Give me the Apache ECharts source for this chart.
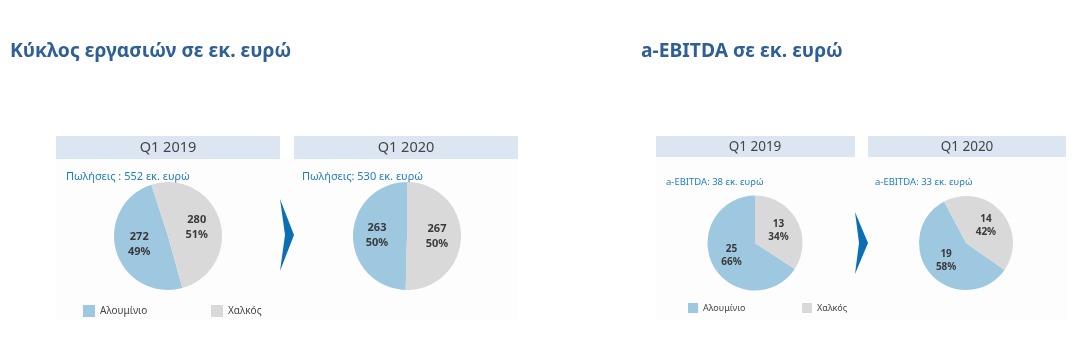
<!DOCTYPE html>
<html>
<head>
<meta charset="utf-8">
<script src="https://cdn.jsdelivr.net/npm/echarts@6/dist/echarts.min.js"></script>
<style>
html,body{margin:0;padding:0;background:#fff;}
#c{width:1081px;height:355px;}
</style>
</head>
<body>
<div id="c"></div>
<script>
// ---- data ----
var segments = ['Αλουμίνιο', 'Χαλκός'];
var periods = ['Q1 2019', 'Q1 2020'];
var salesAlu = [272, 263];
var salesCu = [280, 267];
var salesTotal = [552, 530];
var ebitdaAlu = [25, 19];
var ebitdaCu = [13, 14];
var ebitdaTotal = [38, 33];
var titles = ['Κύκλος εργασιών σε εκ. ευρώ', 'a-EBITDA σε εκ. ευρώ'];

var ALU = '#9ec7e0', CU = '#d9d9d9';
var FONT = '"Noto Sans", "DejaVu Sans", sans-serif';

var chart = echarts.init(document.getElementById('c'));

function pie(cx, cy, r, start, alu, cu, fs, lh) {
  return {
    type: 'pie',
    center: [cx, cy],
    radius: [0, r],
    startAngle: start,
    clockwise: true,
    percentPrecision: 0,
    silent: true,
    animation: false,
    label: {
      show: true,
      position: 'inside',
      formatter: '{c}\n{d}%',
      color: '#3a3a3a',
      fontFamily: FONT,
      fontWeight: 'bold',
      fontSize: fs,
      lineHeight: lh
    },
    labelLine: {show: false},
    itemStyle: {borderWidth: 0},
    data: [
      {name: segments[0], value: alu, itemStyle: {color: ALU}},
      {name: segments[1], value: cu, itemStyle: {color: CU}}
    ]
  };
}

function txt(x, y, s, size, color, weight, align) {
  return {
    type: 'text', silent: true,
    style: {
      x: x, y: y, text: s, fill: color,
      font: (weight || 'normal') + ' ' + size + 'px ' + FONT,
      align: align || 'left', verticalAlign: 'middle'
    }
  };
}
function rect(x, y, w, h, color) {
  return {type: 'rect', silent: true, shape: {x: x, y: y, width: w, height: h}, style: {fill: color}};
}
function chevron(x, y, w, h, notch) {
  return {
    type: 'polygon', silent: true,
    shape: {points: [[x, y], [x + w, y + h / 2], [x, y + h], [x + notch, y + h / 2]]},
    style: {fill: '#0b6fb4'}
  };
}

var graphics = [
  rect(56, 159, 462, 160, '#fdfdfd'),
  rect(656, 157, 410, 163, '#fdfdfd'),
  rect(56, 136, 224, 23, '#dce6f2'),
  rect(294, 136, 224, 23, '#dce6f2'),
  rect(656, 136, 199, 21, '#dce6f2'),
  rect(868, 136, 198, 21, '#dce6f2'),
  txt(10, 52, titles[0], 19.3, '#2f5f97', 'bold'),
  txt(641, 52, titles[1], 19.3, '#2f5f97', 'bold'),
  txt(168, 148, periods[0], 14.5, '#454545', 'normal', 'center'),
  txt(406, 148, periods[1], 14.5, '#454545', 'normal', 'center'),
  txt(755, 147, periods[0], 13.5, '#454545', 'normal', 'center'),
  txt(967, 147, periods[1], 13.5, '#454545', 'normal', 'center'),
  txt(66, 177, 'Πωλήσεις : ' + salesTotal[0] + ' εκ. ευρώ', 11, '#1f7cc2'),
  txt(302, 177, 'Πωλήσεις: ' + salesTotal[1] + ' εκ. ευρώ', 11, '#1f7cc2'),
  txt(666, 182, 'a-EBITDA: ' + ebitdaTotal[0] + ' εκ. ευρώ', 9.5, '#1f7cc2'),
  txt(875, 182, 'a-EBITDA: ' + ebitdaTotal[1] + ' εκ. ευρώ', 9.5, '#1f7cc2'),
  chevron(280, 199, 14, 72, 5),
  chevron(855, 212, 13, 62, 4)
];

function legend(name, left, top, size, fs) {
  return {
    data: [name], left: left, top: top, padding: 0,
    icon: 'rect', itemWidth: size, itemHeight: size, itemGap: 0,
    selectedMode: false,
    textStyle: {fontFamily: FONT, fontSize: fs, color: '#454545', padding: [0, 0, 0, 0]}
  };
}

chart.setOption({
  animation: false,
  backgroundColor: '#ffffff',
  legend: [
    legend(segments[0], 83, 305, 12, 10),
    legend(segments[1], 211, 305, 12, 10),
    legend(segments[0], 688, 303, 10, 9),
    legend(segments[1], 802, 303, 10, 9)
  ],
  graphic: graphics,
  series: [
    pie(168, 236, 54, 285.4, salesAlu[0], salesCu[0], 11, 15),
    pie(407, 236, 54, 268.6, salesAlu[1], salesCu[1], 11, 15),
    pie(755, 243, 47.5, 326.8, ebitdaAlu[0], ebitdaCu[0], 10, 13),
    pie(966, 243, 47, -35, ebitdaAlu[1], ebitdaCu[1], 10, 13)
  ]
});
</script>
</body>
</html>
